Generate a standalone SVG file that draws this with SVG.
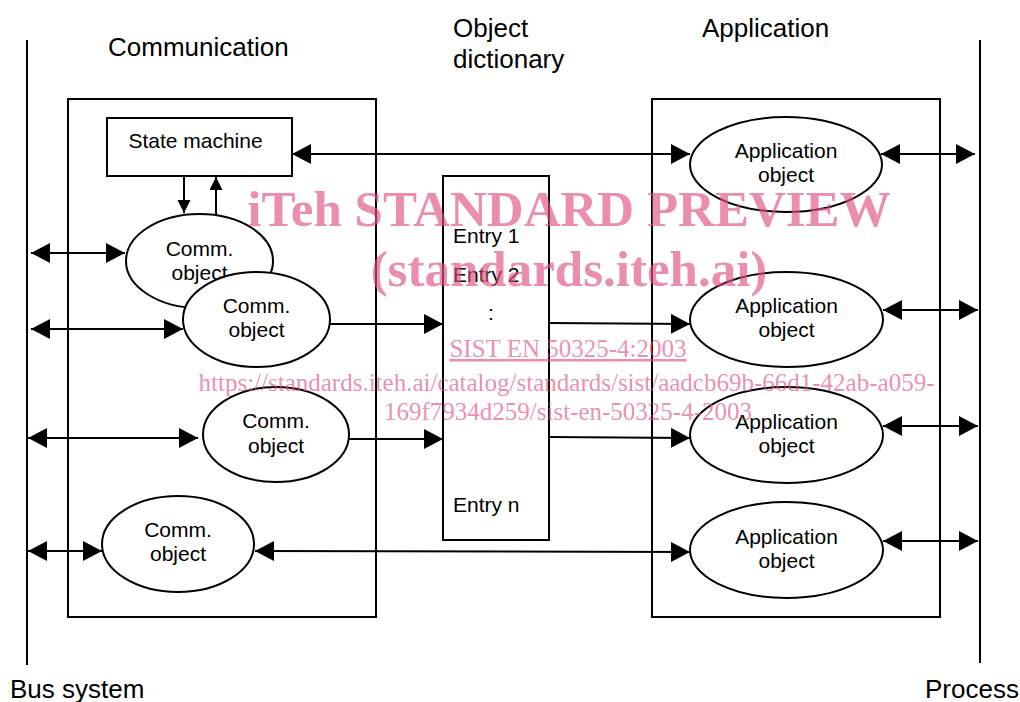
<svg xmlns="http://www.w3.org/2000/svg" width="1020" height="702" viewBox="0 0 1020 702">
<style>
.ln{stroke:#000;stroke-width:2;fill:none}
.box{stroke:#000;stroke-width:2;fill:#fff}
.hd{font-family:"Liberation Sans",Arial,sans-serif;font-size:26px;fill:#000}
.tx{font-family:"Liberation Sans",Arial,sans-serif;font-size:21px;fill:#000}
.c{text-anchor:middle}
.wm{font-family:"Liberation Serif","Times New Roman",serif;fill:#e0507f;fill-opacity:0.65;text-anchor:middle}
</style>
<defs>
<marker id="ah" markerUnits="userSpaceOnUse" markerWidth="20" markerHeight="21" refX="19" refY="10" orient="auto-start-reverse" viewBox="0 0 20 21">
<path d="M0,0 L19,10 L0,20 z" fill="#000"/>
</marker>
<marker id="as" markerUnits="userSpaceOnUse" markerWidth="14" markerHeight="14" refX="13" refY="6.5" orient="auto" viewBox="0 0 14 14">
<path d="M0,0 L13,6.5 L0,13 z" fill="#000"/>
</marker>
</defs>
<rect width="1020" height="702" fill="#fff"/>

<g id="bus-system">
<line class="ln" x1="27" y1="40" x2="27" y2="665"/>
<text class="hd" x="10" y="698">Bus system</text>
</g>
<g id="process">
<line class="ln" x1="980" y1="40" x2="980" y2="663"/>
<text class="hd" x="925" y="698">Process</text>
</g>

<g id="communication">
<rect class="box" x="68" y="99" width="308" height="518"/>
<text class="hd" x="108" y="56">Communication</text>
</g>
<g id="application">
<rect class="box" x="652" y="99" width="288" height="518"/>
<text class="hd" x="702" y="37">Application</text>
</g>

<g id="object-dictionary">
<rect class="box" x="443" y="176" width="106" height="364"/>
<text class="hd" x="453" y="37">Object</text>
<text class="hd" x="453" y="68">dictionary</text>
<text class="tx" x="453" y="243">Entry 1</text>
<text class="tx" x="453" y="282">Entry 2</text>
<text class="tx c" x="491" y="320">:</text>
<text class="tx" x="453" y="512">Entry n</text>
</g>

<g id="state-machine">
<rect class="box" x="107" y="118" width="185" height="58"/>
<text class="tx c" x="195.5" y="148">State machine</text>
</g>

<g id="comm-object-1">
<ellipse class="box" cx="199.5" cy="261" rx="73.5" ry="47"/>
<text class="tx c" x="199.5" y="256">Comm.</text>
<text class="tx c" x="199.5" y="280">object</text>
</g>
<g id="comm-object-2">
<ellipse class="box" cx="256.5" cy="319.5" rx="73.5" ry="47.5"/>
<text class="tx c" x="256.5" y="313">Comm.</text>
<text class="tx c" x="256.5" y="337">object</text>
</g>
<g id="comm-object-3">
<ellipse class="box" cx="276" cy="434.5" rx="73" ry="47.5"/>
<text class="tx c" x="276" y="428">Comm.</text>
<text class="tx c" x="276" y="453">object</text>
</g>
<g id="comm-object-4">
<ellipse class="box" cx="178" cy="544" rx="76" ry="48"/>
<text class="tx c" x="178" y="537">Comm.</text>
<text class="tx c" x="178" y="561">object</text>
</g>

<g id="application-object-1">
<ellipse class="box" cx="786" cy="164.5" rx="96" ry="47.5"/>
<text class="tx c" x="786" y="158">Application</text>
<text class="tx c" x="786" y="182">object</text>
</g>
<g id="application-object-2">
<ellipse class="box" cx="786.5" cy="319.5" rx="96.5" ry="47.5"/>
<text class="tx c" x="786.5" y="313">Application</text>
<text class="tx c" x="786.5" y="337">object</text>
</g>
<g id="application-object-3">
<ellipse class="box" cx="786.5" cy="435" rx="96.5" ry="48"/>
<text class="tx c" x="786.5" y="429">Application</text>
<text class="tx c" x="786.5" y="453">object</text>
</g>
<g id="application-object-4">
<ellipse class="box" cx="786.5" cy="550" rx="96.5" ry="48"/>
<text class="tx c" x="786.5" y="544">Application</text>
<text class="tx c" x="786.5" y="568">object</text>
</g>

<g id="connectors">
<line class="ln" x1="292" y1="154" x2="690" y2="154" marker-start="url(#ah)" marker-end="url(#ah)"/>
<line class="ln" x1="881" y1="154" x2="975" y2="154" marker-start="url(#ah)" marker-end="url(#ah)"/>
<line class="ln" x1="31" y1="253" x2="125" y2="253" marker-start="url(#ah)" marker-end="url(#ah)"/>
<line class="ln" x1="31" y1="329" x2="183" y2="329" marker-start="url(#ah)" marker-end="url(#ah)"/>
<line class="ln" x1="330" y1="324" x2="443" y2="324" marker-end="url(#ah)"/>
<line class="ln" x1="549" y1="323" x2="690" y2="324" marker-end="url(#ah)"/>
<line class="ln" x1="883" y1="310" x2="978" y2="310" marker-start="url(#ah)" marker-end="url(#ah)"/>
<line class="ln" x1="28" y1="438" x2="198" y2="438" marker-start="url(#ah)" marker-end="url(#ah)"/>
<line class="ln" x1="349" y1="439" x2="443" y2="439" marker-end="url(#ah)"/>
<line class="ln" x1="549" y1="437" x2="690" y2="438" marker-end="url(#ah)"/>
<line class="ln" x1="883" y1="426" x2="978" y2="426" marker-start="url(#ah)" marker-end="url(#ah)"/>
<line class="ln" x1="28" y1="551" x2="102" y2="551" marker-start="url(#ah)" marker-end="url(#ah)"/>
<line class="ln" x1="255" y1="551" x2="690" y2="552" marker-start="url(#ah)" marker-end="url(#ah)"/>
<line class="ln" x1="883" y1="541" x2="978" y2="541" marker-start="url(#ah)" marker-end="url(#ah)"/>
<line class="ln" x1="184" y1="176" x2="184" y2="213" marker-end="url(#as)"/>
<line class="ln" x1="216" y1="215" x2="216" y2="177" marker-end="url(#as)"/>
</g>

<g id="watermark">
<text class="wm" x="569" y="226" font-size="51" font-weight="bold">iTeh STANDARD PREVIEW</text>
<text class="wm" x="569" y="286" font-size="51" font-weight="bold">(standards.iteh.ai)</text>
<text class="wm" x="568" y="357" font-size="25" text-decoration="underline">SIST EN 50325-4:2003</text>
<text class="wm" x="566.5" y="391" font-size="25">https://standards.iteh.ai/catalog/standards/sist/aadcb69b-66d1-42ab-a059-</text>
<text class="wm" x="568" y="420" font-size="25">169f7934d259/sist-en-50325-4-2003</text>
</g>
</svg>
